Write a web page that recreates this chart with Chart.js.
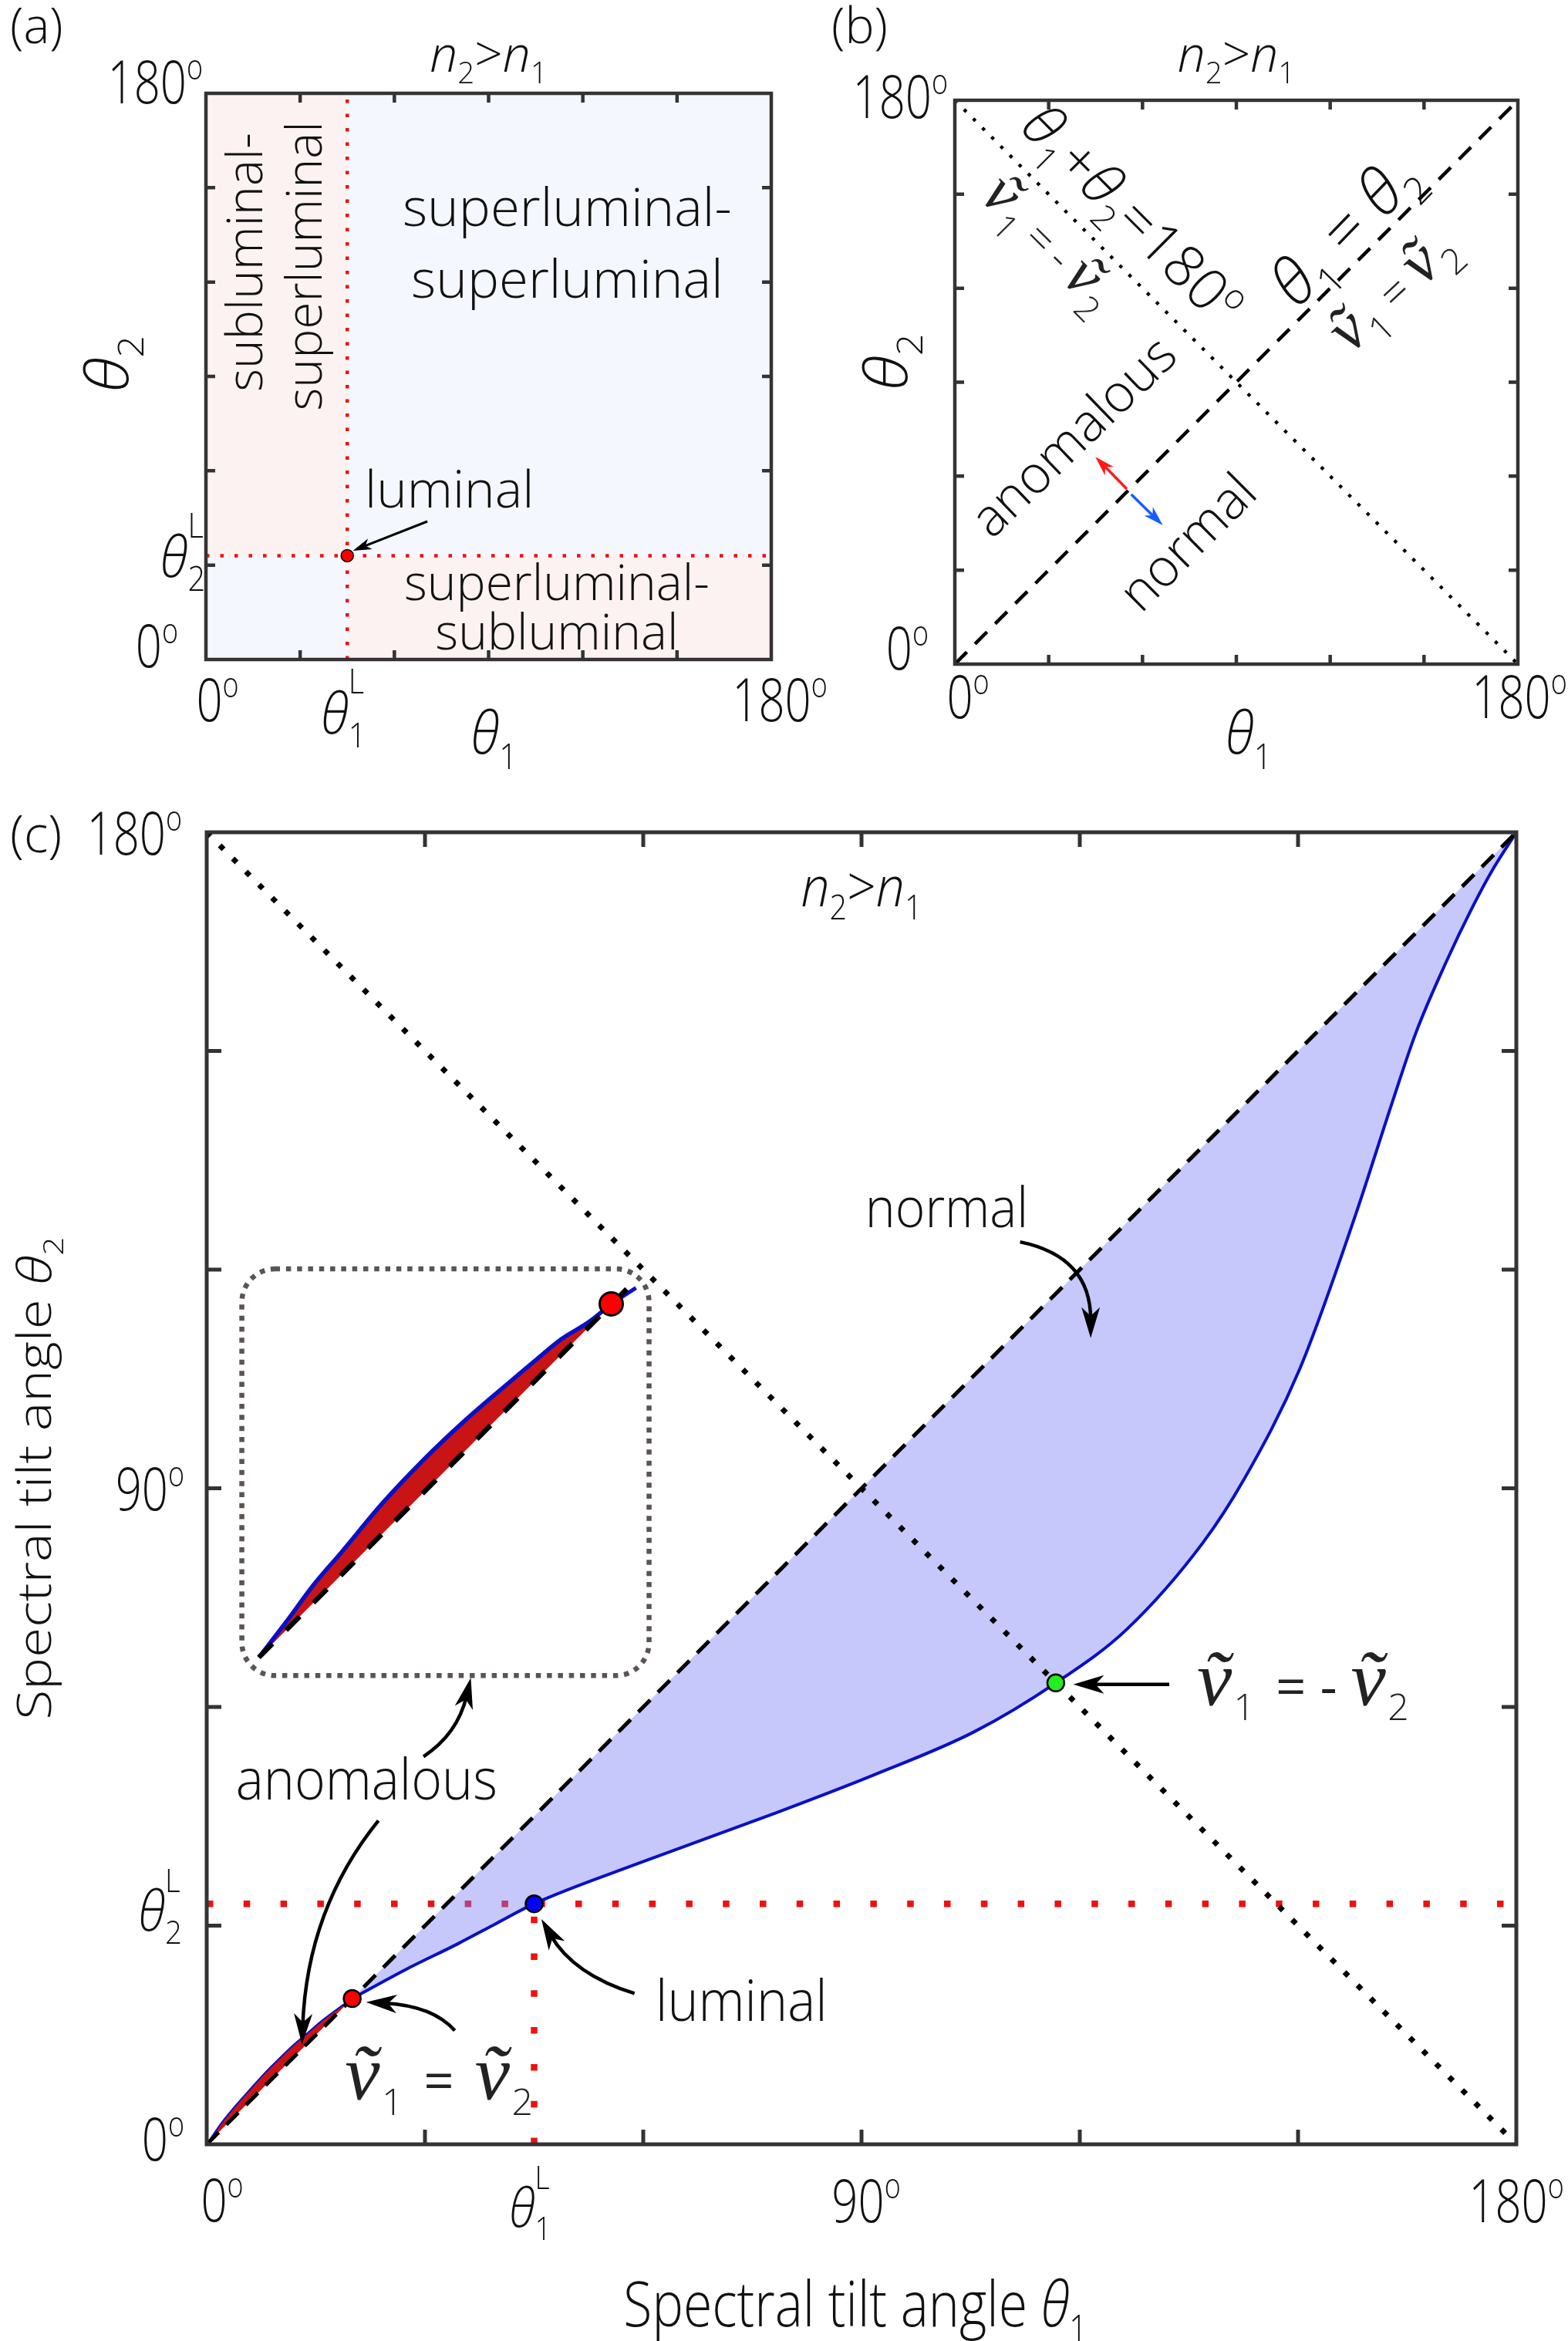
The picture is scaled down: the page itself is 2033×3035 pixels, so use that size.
<!DOCTYPE html>
<html>
<head>
<meta charset="utf-8">
<script src="https://cdn.jsdelivr.net/npm/chart.js@4.4.1/dist/chart.umd.min.js"></script>
<style>
  html, body { margin: 0; padding: 0; background: #fff; }
  body { width: 2033px; height: 3035px; position: relative; overflow: hidden; }
  canvas { position: absolute; left: 0; top: 0; width: 2033px; height: 3035px; }
</style>
</head>
<body>
<canvas id="panelA" width="2033" height="3035"></canvas>
<canvas id="panelB" width="2033" height="3035"></canvas>
<canvas id="panelC" width="2033" height="3035"></canvas>
<script>
// tick positions (degrees) on every side of the three panels
const tickDeg = [0, 30, 60, 90, 120, 150, 180];

// luminal spectral tilt angles
const lumTheta1 = 45;
const lumTheta2 = 33;

// (c) anomalous branch (above the diagonal)
const anomTheta1 = [0, 2, 4, 6, 8, 10, 12, 14, 16, 18, 20];
const anomTheta2 = [0, 2.9, 5.35, 7.6, 9.8, 11.8, 13.7, 15.4, 17.1, 18.6, 20];

// (c) normal branch (below the diagonal)
const normTheta1 = [20, 27.4, 34.5, 39.8, 45, 59.5, 77.5, 91.5, 105.5, 116.7, 126.4, 136.9, 142.5, 150.2, 157.9, 162.8, 166.2, 170.4, 173.9, 176.7, 180];
const normTheta2 = [20, 24.0, 27.5, 30.3, 33, 38.6, 45.2, 50.6, 56.6, 63.3, 70.6, 82.5, 91.1, 106.3, 127.5, 142.5, 152.5, 162.3, 169.6, 174.8, 180];

// (c) special points: v1 = v2, luminal, v1 = -v2
const markTheta1 = [20, 45, 116.7];
const markTheta2 = [20, 33, 63.3];
const markColor = ['#ff0000', '#0000ff', '#22ee22'];

// (c) inset: magnified anomalous branch, in the coordinates of (c)
const insetTheta1 = [7.17, 10.95, 14.73, 18.5, 24.2, 29.9, 35.5, 41.2, 45.0, 48.8, 52.5, 55.6];
const insetTheta2 = [66.8, 71.7, 76.8, 81.2, 88.0, 94.0, 99.3, 104.2, 107.4, 110.5, 112.8, 115.3];
const insetTail1 = [55.6, 59.0];
const insetTail2 = [115.3, 117.5];
const insetDiag1 = [7.17, 59.3];
const insetDiag2 = [66.8, 118.9];

// reference lines theta1 = theta2 and theta1 + theta2 = 180
const lineTheta1 = [0, 180];
const diagTheta2 = [0, 180];
const antiTheta2 = [180, 0];

const W = 2033, H = 3035;
const SANS = '"Open Sans", "Noto Sans", "DejaVu Sans", sans-serif';
const SERIF = '"Liberation Serif", "DejaVu Serif", serif';

const pts = (xs, ys) => xs.map((x, i) => ({ x: x, y: ys[i] }));

// rich text: segments with italic / sub / sup, optional stretch and rotation
function rich(ctx, segs, x, y, o) {
  const size = o.size || 60;
  ctx.save();
  ctx.translate(x, y);
  ctx.scale(o.sx || 1, o.sy || 1);
  if (o.rot) ctx.rotate(o.rot * Math.PI / 180);
  ctx.fillStyle = o.color || '#111';
  ctx.textAlign = 'left';
  ctx.textBaseline = 'alphabetic';
  const items = [];
  let pen = 0, start = 0;
  for (const s of segs) {
    const fs = size * (s.s || (s.b ? 0.6 : 1));
    const font = (s.i ? 'italic ' : '') + (s.w || o.w || 300) + ' ' + fs.toFixed(1) + 'px ' + (s.f || SANS);
    ctx.font = font;
    const w = ctx.measureText(s.t).width;
    const px = s.same ? start : pen;
    if (!s.same) start = pen;
    const dy = (s.dy !== undefined ? s.dy : (s.b === 'sub' ? 0.24 : s.b === 'sup' ? -0.5 : 0)) * size;
    items.push({ t: s.t, font: font, px: px, dy: dy });
    pen = Math.max(pen, px + w) + (s.k || 0) * size;
  }
  const off = o.align === 'center' ? -pen / 2 : o.align === 'right' ? -pen : 0;
  const vy = o.mid ? size * 0.36 : 0;
  for (const it of items) {
    ctx.font = it.font;
    ctx.fillText(it.t, off + it.px, it.dy + vy);
  }
  ctx.restore();
}

const DEG = { t: 'o', s: 0.6, dy: -0.4 };
const deg = n => [{ t: String(n) }, DEG];
const thL = i => [{ t: 'θ', i: 1 }, { t: String(i), b: 'sub', dy: 0.24 }, { t: 'L', b: 'sup', same: 1, dy: -0.7 }];
const th = i => [{ t: 'θ', i: 1 }, { t: String(i), b: 'sub', dy: 0.26 }];
// v with tilde, subscript i
const vt = (i, sz, k) => [
  { t: '\u1E7D', f: SERIF, i: 1, w: 400, s: sz, k: 0.04 },
  { t: String(i), b: 'sub', s: 0.8, dy: 0.32, k: k || 0 }
];

function arrow(ctx, p, o) {
  const tip = p[p.length - 1], from = p[p.length - 2];
  let dx = tip.x - from.x, dy = tip.y - from.y;
  const L = Math.hypot(dx, dy); dx /= L; dy /= L;
  const len = o.len, half = o.half;
  const end = { x: tip.x - dx * len * 0.6, y: tip.y - dy * len * 0.6 };
  ctx.save();
  ctx.strokeStyle = ctx.fillStyle = o.color || '#000';
  ctx.lineWidth = o.lw;
  ctx.setLineDash([]);
  ctx.beginPath();
  ctx.moveTo(p[0].x, p[0].y);
  if (p.length === 3) ctx.quadraticCurveTo(p[1].x, p[1].y, end.x, end.y);
  else ctx.lineTo(end.x, end.y);
  ctx.stroke();
  const nx = -dy, ny = dx;
  ctx.beginPath();
  ctx.moveTo(tip.x, tip.y);
  ctx.lineTo(tip.x - dx * len + nx * half, tip.y - dy * len + ny * half);
  ctx.lineTo(tip.x - dx * len * 0.72, tip.y - dy * len * 0.72);
  ctx.lineTo(tip.x - dx * len - nx * half, tip.y - dy * len - ny * half);
  ctx.closePath();
  ctx.fill();
  ctx.restore();
}

function frame(chart, lw, tl) {
  const ctx = chart.ctx, a = chart.chartArea;
  const X = v => chart.scales.x.getPixelForValue(v), Y = v => chart.scales.y.getPixelForValue(v);
  ctx.save();
  ctx.strokeStyle = '#333';
  ctx.lineWidth = lw;
  ctx.setLineDash([]);
  ctx.beginPath();
  tickDeg.slice(1, -1).forEach(v => {
    ctx.moveTo(X(v), a.bottom); ctx.lineTo(X(v), a.bottom - tl);
    ctx.moveTo(X(v), a.top); ctx.lineTo(X(v), a.top + tl);
    ctx.moveTo(a.left, Y(v)); ctx.lineTo(a.left + tl, Y(v));
    ctx.moveTo(a.right, Y(v)); ctx.lineTo(a.right - tl, Y(v));
  });
  ctx.stroke();
  ctx.strokeRect(a.left, a.top, a.right - a.left, a.bottom - a.top);
  ctx.restore();
}

function makeChart(id, box, datasets, draw) {
  return new Chart(document.getElementById(id), {
    type: 'line',
    data: { datasets: datasets },
    options: {
      responsive: false,
      animation: false,
      devicePixelRatio: 1,
      events: [],
      layout: { padding: { left: box[0], top: box[1], right: W - box[2], bottom: H - box[3] } },
      scales: {
        x: { type: 'linear', min: 0, max: 180, display: false },
        y: { type: 'linear', min: 0, max: 180, display: false }
      },
      plugins: { legend: { display: false }, tooltip: { enabled: false } }
    },
    plugins: [{ id: 'deco_' + id, afterDatasetsDraw: draw }]
  });
}

const line = (data, color, width, dash, extra) => Object.assign({
  data: data, showLine: true, borderColor: color, borderWidth: width,
  borderDash: dash || [], borderCapStyle: 'butt', pointRadius: 0, fill: false, tension: 0
}, extra || {});

const TICK = { size: 68, sx: 0.88, sy: 1.13 };
const tk = extra => Object.assign({}, TICK, extra);
const title = () => [{ t: 'n', i: 1 }, { t: '2', b: 'sub' }, { t: '>' }, { t: 'n', i: 1 }, { t: '1', b: 'sub' }];

// ---------------- panel (a) ----------------
const bgPink = '#fdf2f2', bgBlue = '#f5f7fe';
makeChart('panelA', [267, 121, 1000, 855], [
  { data: [{ x: lumTheta1, y: lumTheta2 }], showLine: false, pointRadius: 8, pointBackgroundColor: '#ff0000', pointBorderColor: '#000', pointBorderWidth: 1.5 },
  line(pts([lumTheta1, lumTheta1], [0, 180]), '#ee1111', 4.5, [4.5, 14]),
  line(pts([0, 180], [lumTheta2, lumTheta2]), '#ee1111', 4.5, [4.5, 14]),
  line(pts([0, lumTheta1], [lumTheta2, lumTheta2]), 'transparent', 1, [], { fill: 'end', backgroundColor: bgPink }),
  line(pts([lumTheta1, 180], [lumTheta2, lumTheta2]), 'transparent', 1, [], { fill: 'end', backgroundColor: bgBlue }),
  line(pts([0, lumTheta1], [lumTheta2, lumTheta2]), 'transparent', 1, [], { fill: 'start', backgroundColor: bgBlue }),
  line(pts([lumTheta1, 180], [lumTheta2, lumTheta2]), 'transparent', 1, [], { fill: 'start', backgroundColor: bgPink })
], chart => {
  const ctx = chart.ctx;
  const X = v => chart.scales.x.getPixelForValue(v), Y = v => chart.scales.y.getPixelForValue(v);
  frame(chart, 4.5, 12);
  rich(ctx, [{ t: '(a)' }], X(0) - 254, 56, { size: 64 });
  rich(ctx, title(), X(90), Y(180) - 28, { size: 64, align: 'center' });
  rich(ctx, deg(180), X(0) - 4, Y(180) + 13, tk({ align: 'right' }));
  rich(ctx, deg(0), X(0) - 36, Y(0) + 10, tk({ align: 'right' }));
  rich(ctx, thL(2), X(0) - 1, Y(lumTheta2) + 28, { size: 66, sy: 1.12, align: 'right' });
  rich(ctx, deg(0), X(0) + 15, Y(0) + 80, tk({ align: 'center' }));
  rich(ctx, deg(180), X(180) + 11, Y(0) + 80, tk({ align: 'center' }));
  rich(ctx, thL(1), X(lumTheta1) - 5, Y(0) + 96, { size: 66, sy: 1.12, align: 'center' });
  rich(ctx, th(1), X(90) + 7, Y(0) + 122, { size: 68, sy: 1.12, align: 'center' });
  rich(ctx, th(2), 166, Y(90) - 16, { size: 76, sy: 1.1, rot: -90, align: 'center' });
  rich(ctx, [{ t: 'superluminal-' }], X(115), Y(137.8), { size: 69, align: 'center' });
  rich(ctx, [{ t: 'superluminal' }], X(115), Y(115), { size: 69, align: 'center' });
  rich(ctx, [{ t: 'superluminal-' }], X(111.7), Y(18.9), { size: 64, align: 'center' });
  rich(ctx, [{ t: 'subluminal' }], X(111.7), Y(3.2), { size: 64, align: 'center' });
  rich(ctx, [{ t: 'subluminal-' }], X(17.9), Y(126.3), { size: 64, rot: -90, align: 'center' });
  rich(ctx, [{ t: 'superluminal' }], X(36.8), Y(125.1), { size: 64, rot: -90, align: 'center' });
  rich(ctx, [{ t: 'luminal' }], X(50.6), Y(48.3), { size: 67 });
  arrow(ctx, [{ x: X(70.5), y: Y(43.9) }, { x: X(46.8), y: Y(34.6) }], { lw: 3, len: 24, half: 7.5 });
});

// ---------------- panel (b) ----------------
makeChart('panelB', [1238, 130, 1968, 861], [
  line(pts(lineTheta1, diagTheta2), '#000', 4.5, [22, 15]),
  line(pts(lineTheta1, antiTheta2), '#000', 4.3, [4.3, 12.5])
], chart => {
  const ctx = chart.ctx;
  const X = v => chart.scales.x.getPixelForValue(v), Y = v => chart.scales.y.getPixelForValue(v);
  frame(chart, 4.5, 12);
  rich(ctx, [{ t: '(b)' }], X(0) - 160, 56, { size: 64 });
  rich(ctx, title(), X(90), Y(180) - 37, { size: 64, align: 'center' });
  rich(ctx, deg(180), X(0) - 9, Y(180) + 23, tk({ align: 'right' }));
  rich(ctx, deg(0), X(0) - 34, Y(0) + 7, tk({ align: 'right' }));
  rich(ctx, deg(0), X(0) + 17, Y(0) + 70, tk({ align: 'center' }));
  rich(ctx, deg(180), X(180) + 2, Y(0) + 70, tk({ align: 'center' }));
  rich(ctx, th(1), X(90) + 16, Y(0) + 116, { size: 68, sy: 1.12, align: 'center' });
  rich(ctx, th(2), 1176, Y(90) - 26, { size: 76, sy: 1.1, rot: -90, align: 'center' });
  rich(ctx, [{ t: 'θ', i: 1 }, { t: '1', b: 'sub', dy: 0.26 }, { t: '+' }, { t: 'θ', i: 1 }, { t: '2', b: 'sub', dy: 0.26 }, { t: '=' }, { t: '180' }, DEG],
    X(57), Y(143.6), { size: 74, rot: 45, align: 'center', mid: true });
  rich(ctx, vt(1, 1.45, 0.25).concat([{ t: '=', k: 0.2 }, { t: '-', k: 0.2 }], vt(2, 1.45)), X(29.8), Y(133.7), { size: 56, rot: 45, align: 'center', mid: true, color: '#222' });
  rich(ctx, th(1).concat([{ t: ' = ' }], th(2)), X(124.3), Y(138.9), { size: 82, rot: -46, align: 'center', mid: true });
  rich(ctx, vt(1, 1.45, 0.25).concat([{ t: '=', k: 0.25 }], vt(2, 1.45)), X(140.5), Y(118.9), { size: 58, rot: -43, align: 'center', mid: true, color: '#222' });
  rich(ctx, [{ t: 'anomalous' }], X(37.7), Y(72.9), { size: 68, rot: -44, align: 'center', mid: true });
  rich(ctx, [{ t: 'normal' }], X(74.2), Y(39.1), { size: 68, rot: -45, align: 'center', mid: true });
  arrow(ctx, [{ x: X(55.0), y: Y(55.9) }, { x: X(44.9), y: Y(66.2) }], { lw: 3.5, len: 26, half: 8, color: '#ff1a1a' });
  arrow(ctx, [{ x: X(56.4), y: Y(54.2) }, { x: X(66.5), y: Y(44.3) }], { lw: 3.5, len: 26, half: 8, color: '#1a5cff' });
});

// ---------------- panel (c) ----------------
const blueLine = '#0a10c4', redFill = '#c81414';
makeChart('panelC', [268, 1079, 1966, 2780], [
  { data: pts(markTheta1, markTheta2), showLine: false, pointRadius: 11, pointBackgroundColor: markColor, pointBorderColor: '#000', pointBorderWidth: 2.5 },
  { data: [{ x: insetTheta1[insetTheta1.length - 1], y: insetTheta2[insetTheta2.length - 1] }], showLine: false, pointRadius: 15, pointBackgroundColor: '#ff0000', pointBorderColor: '#000', pointBorderWidth: 3 },
  line(pts(lineTheta1, diagTheta2), '#000', 5, [22, 14]),
  line(pts(lineTheta1, antiTheta2), '#000', 7, [7, 17]),
  line(pts(insetDiag1, insetDiag2), '#000', 6.5, [25, 25]),
  line(pts(insetTail1, insetTail2), blueLine, 5),
  line(pts(insetTheta1, insetTheta2), blueLine, 5.5, [], { fill: 4, backgroundColor: redFill, cubicInterpolationMode: 'monotone' }),
  line(pts(anomTheta1, anomTheta2), blueLine, 2, [], { fill: 2, backgroundColor: redFill, cubicInterpolationMode: 'monotone' }),
  line(pts(normTheta1, normTheta2), blueLine, 4, [], { fill: 2, backgroundColor: 'rgba(120,125,245,0.42)', cubicInterpolationMode: 'monotone' }),
  line(pts([0, 180], [lumTheta2, lumTheta2]), '#ee1111', 8.5, [8.5, 39.3]),
  line(pts([lumTheta1, lumTheta1], [0, lumTheta2]), '#ee1111', 8.5, [8.5, 39.3])
], chart => {
  const ctx = chart.ctx;
  const X = v => chart.scales.x.getPixelForValue(v), Y = v => chart.scales.y.getPixelForValue(v);
  const P = (a, b) => ({ x: X(a), y: Y(b) });
  // inset outline
  ctx.save();
  ctx.strokeStyle = '#5a5452';
  ctx.lineWidth = 6.5;
  ctx.setLineDash([6.5, 7.8]);
  ctx.beginPath();
  ctx.roundRect(X(4.83), Y(120.1), X(60.8) - X(4.83), Y(64.3) - Y(120.1), 43);
  ctx.stroke();
  ctx.restore();
  frame(chart, 5, 19);
  rich(ctx, [{ t: '(c)' }], X(0) - 255, Y(180) + 26, { size: 66 });
  rich(ctx, title(), X(90), Y(180) + 96, { size: 66, sy: 1.1, align: 'center' });
  rich(ctx, deg(180), X(0) - 32, Y(180) + 29, tk({ align: 'right' }));
  rich(ctx, deg(90), X(0) - 29, Y(90) + 28, tk({ align: 'right' }));
  rich(ctx, deg(0), X(0) - 29, Y(0) + 21, tk({ align: 'right' }));
  rich(ctx, thL(2), X(0) - 32, Y(lumTheta2) + 35, { size: 64, sy: 1.12, align: 'right' });
  rich(ctx, deg(0), X(0) + 20, Y(0) + 100, tk({ align: 'center' }));
  rich(ctx, deg(90), X(90) + 6, Y(0) + 101, tk({ align: 'center' }));
  rich(ctx, deg(180), X(180), Y(0) + 101, tk({ align: 'center' }));
  rich(ctx, thL(1), X(lumTheta1) - 5, Y(0) + 107, { size: 62, sy: 1.12, align: 'center' });
  rich(ctx, [{ t: 'Spectral tilt angle ' }].concat(th(1)), X(90) - 8, Y(0) + 236, { size: 68, sy: 1.2, align: 'center' });
  rich(ctx, [{ t: 'Spectral tilt angle ' }].concat(th(2)), 66, Y(90) - 13, { size: 60, sy: 1.18, rot: -90, align: 'center' });
  // annotations
  rich(ctx, [{ t: 'normal' }], X(90.5), Y(125.8), { size: 66, sy: 1.08 });
  arrow(ctx, [P(111.8, 123.8), P(121.5, 121.8), P(121.5, 110.6)], { lw: 4.5, len: 40, half: 12 });
  rich(ctx, [{ t: 'anomalous' }], X(4.0), Y(47.3), { size: 68, sy: 1.08 });
  arrow(ctx, [P(29.8, 53.2), P(34.5, 56.3), P(36.3, 64.0)], { lw: 4.5, len: 40, half: 12 });
  arrow(ctx, [P(23.6, 44.4), P(13.8, 32.3), P(13.1, 13.7)], { lw: 4.5, len: 40, half: 12 });
  rich(ctx, [{ t: 'luminal' }], X(61.7), Y(16.9), { size: 68, sy: 1.08 });
  arrow(ctx, [P(58.8, 20.7), P(50.4, 23.3), P(46.0, 30.9)], { lw: 4.5, len: 40, half: 12 });
  rich(ctx, vt(1, 1.7, 0.45).concat([{ t: '=', s: 1.15, w: 400, k: 0.45 }], vt(2, 1.7)), X(19.0), Y(6.1), { size: 60, color: '#222' });
  arrow(ctx, [P(34.1, 15.6), P(31.1, 19.0), P(21.9, 19.5)], { lw: 4.5, len: 40, half: 12 });
  rich(ctx, vt(1, 1.7, 0.45).concat([{ t: '=', s: 1.15, w: 400, k: 0.3 }, { t: '-', s: 1.15, w: 400, k: 0.3 }], vt(2, 1.7)), X(136.1), Y(60.2), { size: 60, color: '#222' });
  arrow(ctx, [P(132.3, 63.1), P(119.1, 63.1)], { lw: 4.5, len: 40, half: 12 });
});
</script>
</body>
</html>
